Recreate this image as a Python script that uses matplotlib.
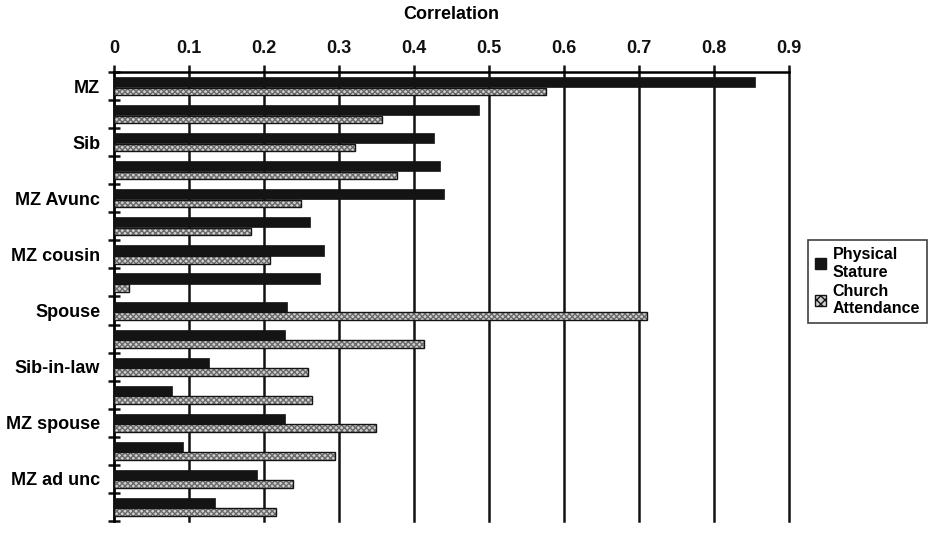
import numpy as np
import matplotlib
matplotlib.use("Agg")
import matplotlib.pyplot as plt
from matplotlib.patches import Patch

plt.rcParams['font.family'] = ['Liberation Sans', 'DejaVu Sans']
plt.rcParams['font.weight'] = 'bold'

# rows top to bottom; only every other row carries a label in the original
row_labels = ["MZ", "", "Sib", "", "MZ Avunc", "", "MZ cousin", "",
              "Spouse", "", "Sib-in-law", "", "MZ spouse", "", "MZ ad unc", ""]
physical_stature = [0.855, 0.487, 0.427, 0.435, 0.440, 0.261, 0.280, 0.274,
                    0.230, 0.228, 0.127, 0.077, 0.228, 0.092, 0.190, 0.135]
church_attendance = [0.576, 0.357, 0.321, 0.377, 0.249, 0.182, 0.208, 0.020,
                     0.710, 0.413, 0.259, 0.264, 0.349, 0.294, 0.239, 0.216]
series_names = ["Physical\nStature", "Church\nAttendance"]
x_ticks = [0, 0.1, 0.2, 0.3, 0.4, 0.5, 0.6, 0.7, 0.8, 0.9]

fig = plt.figure(figsize=(9.39, 5.35), dpi=100)
ax = fig.add_axes([0.1214, 0.0262, 0.8403 - 0.1214, 0.8654 - 0.0262])

y = np.arange(len(row_labels))

# vertical grid lines behind bars (the 0.9 line doubles as right edge)
for xv in x_ticks[1:]:
    ax.axvline(xv, color='#111111', lw=1.8, zorder=1, clip_on=False)

ax.barh(y - 0.14, physical_stature, height=0.36, color='#141414',
        edgecolor='#141414', lw=0.5, zorder=3)
# stippled grey bars: hatched fill, then a black outline on top
ax.barh(y + 0.19, church_attendance, height=0.27, color='#d0d0d0',
        edgecolor='#6a6a6a', hatch='xxxxxx', lw=0, zorder=3)
ax.barh(y + 0.19, church_attendance, height=0.27, fill=False,
        edgecolor='#141414', lw=1.0, zorder=4)

ax.set_xlim(0, 0.9)
ax.set_ylim(len(row_labels) - 0.5, -0.5)

ax.xaxis.tick_top()
ax.set_xticks(x_ticks)
ax.set_xticklabels([f"{v:g}" for v in x_ticks], fontsize=13, fontweight='bold')
ax.tick_params(axis='x', direction='out', length=5, width=1.8, pad=6,
               colors='#111111')
ax.xaxis.set_label_position('top')
ax.set_xlabel("Correlation", fontsize=13, fontweight='bold', labelpad=15)

ax.set_yticks(y[::2])
ax.set_yticklabels(row_labels[::2], fontsize=13, fontweight='bold')
ax.set_yticks(np.arange(-0.5, len(row_labels), 1.0), minor=True)
ax.tick_params(axis='y', which='major', length=0, pad=10)
ax.tick_params(axis='y', which='minor', direction='inout', length=9, width=1.8,
               colors='#111111')

for side in ['right', 'bottom']:
    ax.spines[side].set_visible(False)
ax.spines['top'].set_linewidth(1.8)
ax.spines['left'].set_linewidth(2.0)

# legend
handles = [Patch(facecolor='#141414', edgecolor='#141414'),
           Patch(facecolor='#d0d0d0', edgecolor='#141414', hatch='xxxx')]
leg = fig.legend(handles, series_names, loc='upper left',
                 bbox_to_anchor=(808 / 939, 1 - 240 / 535), frameon=True,
                 fancybox=False, edgecolor='#111111', handlelength=0.7,
                 handleheight=0.7, handletextpad=0.4, borderpad=0.45,
                 labelspacing=0.25, borderaxespad=0,
                 prop={'weight': 'bold', 'size': 11.5})
leg.get_frame().set_linewidth(1.2)

fig.savefig("out.png", dpi=100, facecolor='white')
